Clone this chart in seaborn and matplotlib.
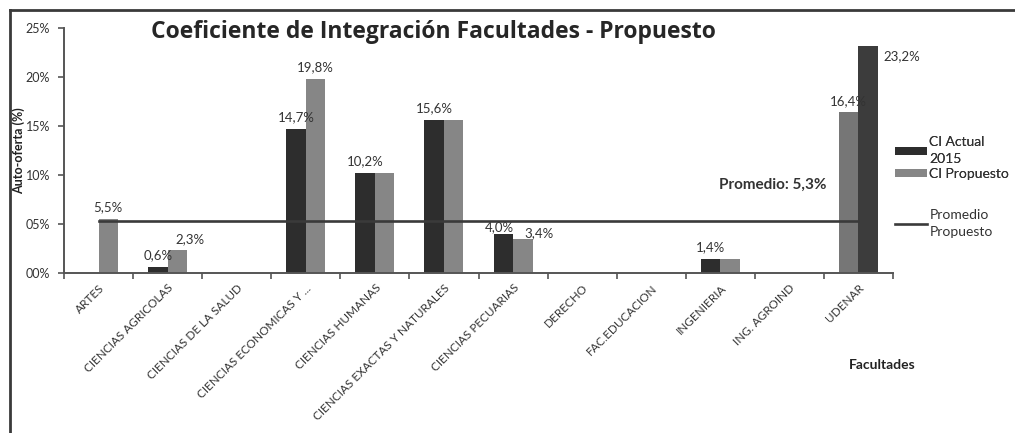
import pandas as pd
import matplotlib.pyplot as plt
import seaborn as sns
from matplotlib.lines import Line2D
from matplotlib.patches import Patch


facultades = ['ARTES', 'CIENCIAS AGRICOLAS', 'CIENCIAS DE LA SALUD', 'CIENCIAS ECONOMICAS Y ...',
              'CIENCIAS HUMANAS', 'CIENCIAS EXACTAS Y NATURALES', 'CIENCIAS PECUARIAS', 'DERECHO',
              'FAC.EDUCACION', 'INGENIERIA', 'ING. AGROIND', 'UDENAR']
ci_actual = [0.0, 0.6, 0.0, 14.7, 10.2, 15.6, 4.0, 0.0, 0.0, 1.4, 0.0, 23.2]
ci_propuesto = [5.5, 2.3, 0.0, 19.8, 10.2, 15.6, 3.4, 0.0, 0.0, 1.4, 0.0, 16.4]
# labels shown in the picture ('' = no label)
etiq_actual = ['', '0,6%', '', '14,7%', '10,2%', '15,6%', '4,0%', '', '', '1,4%', '', '23,2%']
etiq_propuesto = ['5,5%', '2,3%', '', '19,8%', '', '', '3,4%', '', '', '', '', '16,4%']
invertidos = ['UDENAR']  # propuesto drawn left of actual
promedio = 5.3

col_actual = '#2d2d2d'
col_prop = '#868686'

plt.rcParams['font.family'] = ['Lato', 'DejaVu Sans']

rows = []
for i, f in enumerate(facultades):
    inv = f in invertidos
    rows.append({'facultad': f, 'slot': 'b' if inv else 'a', 'valor': ci_actual[i] / 100,
                 'serie': 'actual', 'etiq': etiq_actual[i]})
    rows.append({'facultad': f, 'slot': 'a' if inv else 'b', 'valor': ci_propuesto[i] / 100,
                 'serie': 'prop', 'etiq': etiq_propuesto[i]})
df = pd.DataFrame(rows)

# label nudges (points) where the labels would collide
nudges = {('CIENCIAS AGRICOLAS', 'prop'): (9, 0),
          ('CIENCIAS PECUARIAS', 'actual'): (-3, -4),
          ('CIENCIAS PECUARIAS', 'prop'): (12, -4)}

fig = plt.figure(figsize=(10.15, 4.33), dpi=100)
ax = fig.add_axes([0.0631, 0.3702, 0.8167, 0.5644])

sns.barplot(data=df, x='facultad', y='valor', hue='slot', hue_order=['a', 'b'],
            order=facultades, width=0.565, gap=0, palette=[col_actual, col_prop],
            legend=False, linewidth=0, ax=ax)

# recolour and label each bar
for k, slot in enumerate(['a', 'b']):
    sub = df[df['slot'] == slot].set_index('facultad').loc[facultades]
    for bar, (_, r) in zip(ax.containers[k], sub.iterrows()):
        if r['serie'] == 'actual':
            bar.set_facecolor('#3c3c3c' if r.name in invertidos else col_actual)
        else:
            bar.set_facecolor('#767676' if r.name in invertidos else col_prop)
        if r['etiq']:
            cx = bar.get_x() + bar.get_width() / 2
            top = bar.get_height()
            if r.name in invertidos and r['serie'] == 'actual':
                ax.annotate(r['etiq'], (bar.get_x() + bar.get_width(), top), xytext=(4, -3),
                            textcoords='offset points', ha='left', va='top', fontsize=9.5, color='#333333')
            else:
                dx, dy = nudges.get((r.name, r['serie']), (0, 0))
                ax.annotate(r['etiq'], (cx, top), xytext=(dx, 4 + dy), textcoords='offset points',
                            ha='center', va='bottom', fontsize=9.5, color='#333333')

ax.plot(range(len(facultades)), [promedio / 100] * len(facultades), color='#3a3a3a', lw=1.9, zorder=5)
ax.text(9.76, 0.0897, 'Promedio: 5,3%', ha='center', va='center', fontsize=11,
        fontweight='bold', color='#333333')

ax.set_ylim(0, 0.25)
ax.set_xlim(-0.5, len(facultades) - 0.5)
ax.set_yticks([0, 0.05, 0.10, 0.15, 0.20, 0.25])
ax.set_yticklabels(['00%', '05%', '10%', '15%', '20%', '25%'], fontsize=9, color='#333333')
ax.set_xticks(range(len(facultades)))
ax.set_xticklabels(facultades, rotation=45, ha='right', rotation_mode='anchor', fontsize=8.5, color='#333333')
ax.set_xticks([i - 0.5 for i in range(len(facultades) + 1)], minor=True)
ax.tick_params(axis='x', which='major', length=0, pad=7)
ax.tick_params(axis='x', which='minor', length=4, color='#555555', width=1.2)
ax.tick_params(axis='y', length=4, color='#555555', width=1.2, pad=6)
for s in ['top', 'right']:
    ax.spines[s].set_visible(False)
for s in ['left', 'bottom']:
    ax.spines[s].set_color('#555555')
    ax.spines[s].set_linewidth(1.4)
ax.set_xlabel('')
ax.set_ylabel('Auto-oferta (%)', fontsize=9, fontweight='bold', color='#222222')
ax.yaxis.set_label_coords(-0.047, 0.5)
ax.set_facecolor('white')

fig.text(433 / 1015, 1 - 32 / 433, 'Coeficiente de Integración Facultades - Propuesto',
         ha='center', va='center', fontsize=16.5, fontweight='bold', color='#262626',
         family=['Open Sans', 'DejaVu Sans'])
fig.text(882 / 1015, 1 - 365 / 433, 'Facultades', ha='center', va='center', fontsize=10,
         fontweight='bold', color='#222222')

leg1 = fig.legend([Patch(facecolor=col_actual), Patch(facecolor=col_prop)],
                  ['CI Actual\n2015', 'CI Propuesto'],
                  loc='upper left', bbox_to_anchor=(0.882, 0.685), frameon=False, fontsize=10,
                  handlelength=2.3, handleheight=0.45, handletextpad=0.15, labelspacing=0.2,
                  labelcolor='#333333', borderaxespad=0, borderpad=0)
leg2 = fig.legend([Line2D([], [], color='#3a3a3a', lw=1.9)], ['Promedio\nPropuesto'],
                  loc='upper left', bbox_to_anchor=(0.882, 0.517), frameon=False, fontsize=10,
                  handlelength=2.3, handletextpad=0.15, labelcolor='#333333', borderaxespad=0, borderpad=0)
fig.add_artist(leg1)
for leg in (leg1, leg2):
    for t in leg.get_texts():
        t.set_linespacing(1.5)

# chart frame (top and left edges)
fig.add_artist(Line2D([10 / 1015, 1], [1 - 10 / 433, 1 - 10 / 433], color='#3a3a3a', lw=2,
                      transform=fig.transFigure))
fig.add_artist(Line2D([10 / 1015, 10 / 1015], [0, 1 - 10 / 433], color='#3a3a3a', lw=2,
                      transform=fig.transFigure))

fig.savefig('out.png', dpi=100, facecolor='white')
